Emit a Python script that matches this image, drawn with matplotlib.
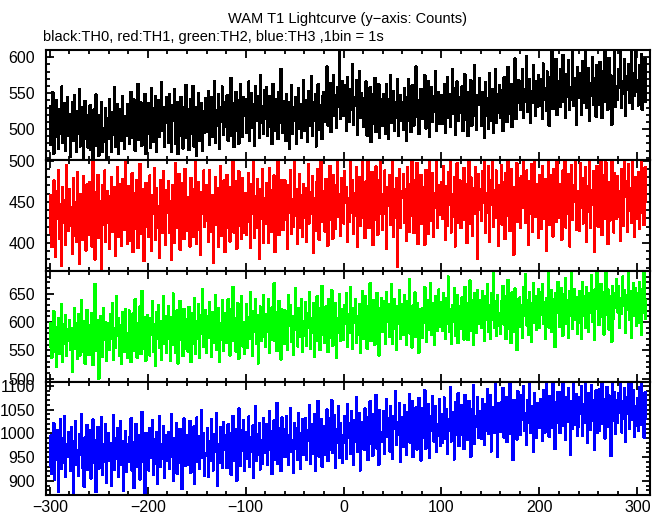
import numpy as np
import matplotlib
matplotlib.use("Agg")
import matplotlib.pyplot as plt
from matplotlib.ticker import MultipleLocator

plt.rcParams['font.family'] = ['Liberation Sans', 'DejaVu Sans']

## counts per 1 s bin, first bin at t = -300 s
th0 = [
    478, 532, 497, 551, 466, 515, 489, 540, 503, 472, 528, 494, 559, 481, 512, 536, 470, 507, 545, 490,
    521, 462, 499, 538, 483, 547, 510, 468, 525, 493, 556, 476, 514, 531, 459, 502, 539, 486, 520, 474,
    496, 533, 471, 512, 460, 527, 489, 548, 477, 505, 463, 519, 494, 537, 468, 501, 482, 529, 455, 515,
    487, 541, 506, 469, 523, 492, 558, 475, 510, 534, 466, 499, 527, 483, 546, 504, 472, 518, 491, 535,
    530, 479, 515, 552, 488, 507, 541, 470, 523, 496, 563, 485, 512, 537, 477, 528, 501, 549, 466, 519,
    494, 536, 511, 474, 557, 503, 482, 529, 546, 469, 516, 540, 489, 522, 565, 497, 531, 475, 508, 544,
    525, 481, 549, 497, 468, 533, 512, 556, 479, 504, 538, 465, 520, 491, 545, 509, 473, 530, 496, 561,
    488, 527, 471, 514, 542, 493, 560, 476, 509, 531, 463, 518, 550, 484, 502, 536, 470, 525, 495, 543,
    534, 496, 553, 478, 520, 545, 489, 515, 567, 481, 526, 504, 548, 473, 531, 510, 559, 492, 517, 538,
    503, 547, 484, 529, 512, 571, 490, 536, 475, 521, 552, 498, 540, 480, 527, 563, 506, 489, 544, 519,
    541, 495, 529, 566, 483, 517, 550, 502, 535, 477, 560, 512, 524, 546, 488, 575, 509, 532, 493, 554,
    514, 558, 491, 537, 503, 546, 527, 479, 563, 518, 497, 541, 530, 486, 552, 509, 584, 522, 495, 539,
    526, 483, 549, 507, 538, 472, 520, 561, 494, 531, 512, 545, 479, 516, 557, 501, 535, 488, 523, 568,
    497, 540, 519, 482, 553, 528, 505, 574, 490, 537, 511, 549, 476, 525, 562, 499, 533, 514, 486, 546,
    552, 510, 538, 587, 505, 529, 564, 496, 541, 518, 575, 523, 547, 502, 558, 531, 612, 514, 539, 566,
    519, 561, 534, 498, 572, 541, 510, 555, 527, 590, 506, 545, 533, 568, 492, 538, 581, 515, 550, 524,
    543, 503, 529, 566, 491, 537, 515, 558, 482, 524, 549, 507, 571, 496, 533, 519, 562, 488, 541, 510,
    505, 548, 520, 494, 563, 531, 486, 542, 575, 509, 527, 553, 498, 538, 516, 569, 491, 534, 547, 512,
    538, 499, 557, 522, 483, 545, 570, 511, 533, 496, 561, 528, 505, 549, 587, 517, 540, 493, 531, 556,
    514, 553, 530, 575, 501, 541, 520, 567, 489, 535, 558, 510, 546, 524, 581, 498, 537, 552, 507, 543,
    547, 508, 536, 563, 495, 528, 572, 516, 549, 503, 539, 584, 521, 557, 492, 533, 566, 511, 544, 526,
    522, 559, 497, 540, 576, 513, 535, 490, 551, 529, 568, 505, 544, 518, 589, 526, 499, 547, 534, 571,
    538, 504, 552, 526, 488, 565, 519, 543, 500, 578, 531, 512, 556, 495, 537, 583, 509, 548, 523, 561,
    516, 554, 538, 497, 572, 529, 549, 510, 586, 535, 521, 563, 503, 545, 530, 598, 514, 552, 537, 568,
    561, 527, 549, 583, 515, 556, 538, 602, 524, 547, 570, 509, 553, 536, 589, 542, 518, 566, 531, 575,
    532, 569, 548, 514, 591, 541, 557, 526, 580, 553, 505, 572, 539, 611, 528, 561, 544, 597, 520, 556,
    567, 531, 584, 549, 603, 538, 562, 515, 577, 545, 596, 527, 558, 541, 619, 532, 571, 550, 506, 586,
    543, 578, 556, 520, 594, 537, 567, 609, 529, 552, 585, 511, 564, 546, 600, 534, 571, 555, 517, 589,
    570, 534, 593, 551, 515, 580, 545, 608, 538, 562, 527, 599, 553, 575, 506, 566, 543, 614, 531, 559,
    541, 584, 557, 612, 530, 566, 549, 597, 519, 573, 555, 590, 536, 563, 607, 528, 578, 546, 621, 552,
    568, 533, 589, 550, 604, 527, 575, 546, 598, 538,
]

th1 = [
    412, 458, 395, 441, 476, 420, 383, 463, 430, 489, 405, 447, 372, 468, 425, 452, 398, 495, 436, 415,
    466, 421, 443, 387, 479, 409, 450, 402, 486, 427, 375, 459, 437, 404, 481, 418, 455, 391, 471, 433,
    410, 474, 432, 396, 499, 445, 380, 462, 419, 483, 406, 451, 428, 369, 470, 422, 488, 401, 441, 463,
    424, 393, 457, 480, 414, 439, 468, 384, 449, 492, 408, 435, 471, 397, 478, 444, 416, 502, 429, 399,
    469, 423, 403, 447, 485, 389, 438, 461, 417, 477, 394, 452, 496, 411, 434, 466, 378, 442, 473, 420,
    448, 407, 482, 429, 390, 458, 436, 491, 404, 467, 419, 445, 382, 476, 431, 412, 487, 453, 398, 464,
    437, 475, 413, 451, 380, 470, 426, 400, 497, 441, 418, 459, 484, 392, 446, 421, 473, 405, 490, 430,
    415, 456, 440, 396, 479, 423, 466, 408, 448, 503, 399, 432, 474, 416, 386, 462, 436, 488, 420, 452,
    470, 427, 401, 489, 443, 414, 458, 376, 437, 480, 422, 467, 395, 446, 494, 409, 453, 431, 476, 389,
    441, 483, 418, 455, 402, 468, 433, 510, 413, 449, 475, 393, 440, 487, 421, 462, 405, 479, 444, 412,
    461, 410, 448, 485, 426, 394, 472, 436, 498, 406, 457, 418, 478, 443, 381, 466, 430, 490, 400, 454,
    423, 473, 439, 400, 491, 452, 414, 464, 438, 482, 389, 469, 427, 501, 410, 456, 434, 477, 416, 447,
    476, 428, 459, 393, 470, 437, 489, 411, 453, 420, 512, 433, 465, 399, 444, 484, 419, 458, 407, 472,
    431, 467, 402, 450, 496, 424, 462, 436, 481, 388, 455, 415, 474, 438, 490, 404, 447, 505, 426, 463,
    452, 414, 478, 440, 397, 466, 494, 428, 460, 405, 483, 445, 417, 471, 515, 432, 459, 409, 479, 437,
    424, 487, 449, 468, 402, 455, 426, 503, 437, 476, 411, 461, 433, 492, 395, 451, 480, 421, 465, 499,
    469, 430, 406, 475, 447, 507, 418, 462, 439, 486, 398, 456, 428, 493, 464, 410, 477, 435, 517, 450,
    416, 460, 488, 436, 393, 468, 445, 482, 422, 454, 499, 408, 466, 431, 479, 371, 452, 490, 419, 463,
    455, 484, 425, 466, 403, 492, 440, 414, 472, 433, 509, 458, 412, 477, 429, 497, 399, 463, 447, 483,
    423, 468, 451, 398, 489, 438, 475, 411, 500, 452, 427, 485, 407, 461, 443, 513, 419, 470, 434, 458,
    474, 429, 494, 450, 404, 469, 421, 486, 446, 506, 413, 460, 432, 480, 396, 465, 497, 425, 455, 476,
    418, 462, 444, 491, 428, 471, 400, 453, 499, 424, 480, 458, 409, 467, 435, 492, 448, 381, 484, 441,
    466, 427, 487, 449, 510, 413, 461, 437, 493, 402, 476, 446, 498, 420, 464, 431, 488, 452, 397, 470,
    440, 495, 422, 474, 456, 405, 485, 433, 504, 462, 415, 490, 447, 468, 386, 458, 429, 497, 426, 479,
    457, 418, 481, 443, 508, 466, 425, 488, 451, 398, 475, 436, 496, 414, 461, 519, 432, 472, 447, 406,
    483, 446, 417, 494, 455, 429, 478, 391, 467, 501, 422, 453, 482, 440, 408, 490, 459, 426, 511, 448,
    431, 472, 452, 404, 488, 446, 503, 419, 466, 435, 484, 396, 458, 495, 428, 470, 450, 514, 416, 463,
    461, 415, 497, 443, 479, 424, 455, 492, 401, 469, 438, 506, 418, 464, 447, 487, 389, 460, 432, 494,
    420, 468, 449, 509, 410, 457, 483, 430, 498, 446, 399, 474, 427, 462, 518, 441, 413, 485, 452, 429,
    481, 432, 463, 403, 490, 448, 421, 502, 456, 475, 414, 496, 439, 467, 425, 511, 451, 408, 480, 460,
    429, 486, 417, 463, 500, 437, 476, 422, 492, 450,
]

th2 = [
    556, 598, 537, 582, 619, 548, 590, 521, 573, 607, 543, 585, 631, 530, 596, 561, 612, 540, 588, 567,
    603, 550, 589, 512, 579, 624, 553, 597, 535, 614, 571, 541, 638, 586, 547, 601, 526, 580, 621, 558,
    542, 595, 566, 616, 524, 583, 667, 549, 604, 572, 500, 559, 611, 587, 538, 625, 568, 599, 531, 592,
    598, 551, 613, 570, 634, 533, 589, 555, 645, 576, 606, 540, 594, 526, 618, 563, 547, 622, 581, 536,
    561, 620, 574, 529, 600, 615, 549, 640, 579, 537, 597, 566, 627, 544, 655, 586, 552, 609, 532, 593,
    612, 565, 541, 606, 578, 636, 547, 596, 522, 617, 571, 630, 554, 601, 534, 589, 645, 562, 611, 546,
    570, 628, 590, 531, 609, 560, 650, 595, 545, 583, 621, 527, 598, 637, 568, 604, 540, 623, 580, 553,
    605, 548, 626, 576, 529, 615, 589, 562, 642, 544, 601, 570, 631, 537, 612, 579, 658, 556, 594, 620,
    545, 610, 572, 635, 593, 538, 618, 563, 603, 648, 551, 590, 624, 530, 597, 568, 639, 549, 614, 575,
    616, 563, 640, 596, 541, 622, 581, 662, 566, 607, 548, 594, 633, 535, 613, 578, 646, 557, 600, 543,
    579, 631, 555, 608, 571, 652, 597, 540, 619, 583, 640, 561, 612, 527, 600, 627, 566, 605, 648, 574,
    556, 613, 582, 641, 545, 604, 569, 626, 590, 668, 566, 618, 549, 588, 637, 578, 534, 622, 592, 561,
    620, 568, 609, 551, 647, 593, 630, 565, 611, 542, 587, 659, 598, 557, 625, 574, 615, 640, 548, 601,
    576, 635, 558, 616, 590, 653, 553, 607, 580, 634, 539, 613, 587, 645, 566, 624, 550, 599, 664, 578,
    611, 563, 627, 589, 547, 641, 600, 572, 656, 558, 618, 584, 633, 536, 607, 581, 649, 567, 622, 594,
    569, 629, 596, 650, 556, 614, 580, 662, 593, 552, 625, 598, 641, 563, 611, 577, 632, 546, 603, 654,
    622, 570, 645, 604, 553, 628, 590, 668, 566, 615, 581, 638, 560, 609, 651, 586, 541, 624, 595, 642,
    583, 636, 606, 561, 653, 600, 631, 573, 619, 666, 562, 610, 640, 588, 551, 627, 597, 656, 571, 614,
    632, 577, 648, 605, 560, 637, 593, 675, 579, 618, 555, 629, 601, 652, 574, 634, 608, 546, 622, 596,
    572, 625, 598, 661, 609, 565, 639, 587, 620, 669, 578, 633, 603, 559, 646, 612, 584, 657, 592, 628,
    635, 584, 651, 607, 571, 642, 596, 680, 583, 623, 562, 630, 601, 659, 576, 615, 648, 563, 627, 591,
    588, 643, 610, 569, 662, 602, 634, 568, 619, 673, 585, 638, 605, 560, 651, 614, 580, 656, 597, 632,
    638, 590, 655, 611, 566, 645, 603, 667, 582, 629, 571, 650, 604, 686, 589, 636, 575, 648, 615, 593,
    579, 637, 609, 664, 595, 646, 570, 624, 674, 588, 633, 563, 652, 612, 583, 659, 618, 550, 641, 602,
    643, 592, 630, 572, 661, 611, 684, 594, 638, 578, 653, 606, 565, 634, 668, 599, 645, 586, 620, 658,
    589, 652, 613, 667, 596, 635, 570, 642, 609, 690, 590, 631, 656, 582, 640, 607, 556, 651, 616, 671,
    640, 591, 660, 614, 576, 649, 621, 678, 597, 639, 572, 654, 610, 695, 588, 635, 658, 603, 644, 579,
    598, 655, 620, 571, 670, 611, 646, 590, 662, 632, 583, 651, 617, 682, 600, 641, 569, 658, 623, 700,
    648, 595, 633, 667, 609, 653, 578, 639, 688, 612, 657, 587, 645, 618, 565, 663, 605, 650, 625, 676,
    617, 664, 589, 642, 614, 680, 628, 656, 580, 647, 621, 694, 604, 654, 572, 640, 668, 611, 659, 593,
    651, 598, 671, 626, 577, 657, 616, 698, 639, 605,
]

th3 = [
    932, 995, 915, 971, 1021, 903, 980, 944, 1006, 877, 962, 1030, 925, 990, 938, 1037, 908, 976, 951, 1003,
    973, 920, 1012, 949, 872, 984, 1026, 934, 965, 911, 998, 955, 1041, 928, 969, 887, 992, 942, 1018, 923,
    950, 1006, 905, 968, 1029, 937, 985, 876, 960, 1013, 926, 994, 944, 1034, 913, 977, 939, 1020, 896, 966,
    1000, 941, 979, 890, 958, 1038, 924, 989, 947, 1011, 909, 971, 1025, 933, 984, 879, 961, 1005, 918, 976,
    939, 991, 956, 1032, 921, 968, 885, 982, 1020, 930, 996, 946, 903, 975, 1045, 940, 964, 871, 1001, 952,
    983, 922, 1010, 948, 970, 1028, 912, 988, 935, 1002, 894, 963, 1036, 929, 977, 946, 1015, 906, 968, 997,
    942, 1003, 926, 975, 1040, 951, 899, 990, 961, 1022, 915, 969, 937, 1009, 979, 882, 956, 1031, 932, 987,
    995, 933, 970, 1026, 917, 982, 955, 1014, 894, 966, 1033, 940, 993, 925, 971, 1048, 948, 1000, 911, 959,
    953, 1010, 908, 984, 941, 1030, 967, 922, 999, 960, 1042, 889, 978, 938, 1012, 957, 927, 1023, 965, 996,
    977, 927, 1019, 958, 1000, 913, 981, 1037, 943, 970, 1008, 900, 990, 1052, 952, 932, 1006, 963, 1027, 921,
    1002, 946, 979, 1035, 930, 992, 960, 1016, 907, 975, 1058, 941, 998, 954, 1021, 924, 985, 936, 1031, 963,
    958, 1020, 933, 993, 1047, 966, 1004, 914, 980, 1027, 944, 991, 1063, 935, 972, 1010, 921, 1033, 982, 951,
    1008, 950, 1036, 973, 934, 997, 1053, 960, 986, 916, 1022, 968, 1011, 944, 1043, 989, 926, 1001, 1030, 955,
    967, 1032, 945, 1006, 984, 1060, 936, 995, 1019, 956, 1040, 921, 1003, 976, 1068, 951, 1012, 1029, 930, 990,
    1015, 954, 993, 1050, 942, 1004, 1031, 965, 1069, 958, 990, 1039, 927, 1008, 979, 1057, 948, 1022, 997, 937,
    979, 1036, 1005, 946, 1062, 990, 1021, 957, 1047, 998, 933, 1027, 982, 1076, 961, 1009, 1043, 922, 1016, 993,
    1024, 965, 1052, 999, 1033, 944, 1008, 1067, 978, 1040, 953, 1012, 994, 1081, 968, 1028, 934, 1048, 1002, 982,
    984, 1046, 957, 1019, 1072, 993, 1031, 962, 1058, 1004, 946, 1037, 1010, 1088, 975, 1023, 996, 1063, 940, 1027,
    1033, 972, 1060, 1008, 955, 1045, 997, 1083, 980, 1024, 1068, 950, 1015, 988, 1054, 966, 1036, 1074, 1001, 943,
    990, 1053, 1011, 1090, 967, 1028, 999, 1062, 948, 1037, 1005, 1079, 983, 1031, 1058, 960, 1019, 994, 1071, 974,
    1041, 980, 1022, 1075, 988, 1050, 956, 1030, 1006, 1097, 983, 1044, 1012, 945, 1066, 996, 1027, 1084, 973, 1035,
    997, 1059, 1024, 967, 1081, 1010, 1046, 986, 1068, 1029, 951, 1051, 1003, 1101, 977, 1036, 1014, 1076, 990, 1042,
    1047, 989, 1072, 1020, 976, 1061, 1005, 1093, 998, 1037, 1080, 962, 1025, 1055, 1000, 1107, 1016, 950, 1064, 1032,
    1003, 1066, 1028, 1096, 991, 1040, 1077, 981, 1052, 1017, 1104, 998, 1035, 944, 1070, 1021, 1048, 987, 1088, 1010,
    1053, 996, 1081, 1029, 1100, 1006, 1043, 975, 1069, 1022, 1112, 1001, 1057, 1014, 961, 1085, 1034, 990, 1064, 1019,
    1011, 1072, 1031, 984, 1091, 1040, 1002, 1109, 1026, 1060, 993, 1079, 1035, 1012, 1118, 1045, 967, 1066, 1023, 1087,
    1060, 1000, 1086, 1034, 1106, 1015, 1052, 986, 1077, 1024, 1095, 1039, 955, 1068, 1009, 1113, 1044, 1018, 1082, 995,
    1014, 1075, 1040, 1099, 994, 1061, 1022, 1120, 1033, 980, 1084, 1047, 1008, 1102, 1026, 1069, 965, 1053, 1090, 1001,
    1066, 1005, 1093, 1036, 1110, 1019, 1072, 989, 1048, 1098, 1013, 1080, 1039, 952, 1057, 1105, 1027, 1087, 998, 1070,
    1021, 1085, 1044, 1115, 1002, 1068, 1031, 1096, 982, 1077, 1040, 1103, 1009, 1062, 1119, 1029, 1091, 993, 1058, 1015,
    1074, 1006, 1097, 1035, 1108, 1017, 1063, 991, 1086, 1030,
]

t_start = -300
colors = ['black', '#ff0000', '#00ff00', '#0000ff']
series = [th0, th1, th2, th3]
ylims = [(457, 610), (366, 501), (494, 690), (870, 1108)]
yticks = [[500, 550, 600], [400, 450, 500], [500, 550, 600, 650],
          [900, 950, 1000, 1050, 1100]]

fig = plt.figure(figsize=(6.61, 5.15), dpi=100)
W, H = 661.0, 515.0
left, right = 46, 650
edges = [50, 160, 271, 382, 495]   # panel borders in pixels from the top

axes = []
for i in range(4):
    top, bot = edges[i], edges[i + 1]
    ax = fig.add_axes([left / W, 1 - bot / H, (right - left) / W, (bot - top) / H])
    axes.append(ax)
    y = np.array(series[i])
    t = np.arange(len(y)) + t_start
    ax.plot(t, y, color=colors[i], lw=1.0, drawstyle='steps-mid', antialiased=False)
    ax.set_xlim(-304, 313)
    ax.set_ylim(*ylims[i])
    ax.set_yticks(yticks[i])
    ax.yaxis.set_minor_locator(MultipleLocator(10))
    ax.xaxis.set_major_locator(MultipleLocator(100))
    ax.xaxis.set_minor_locator(MultipleLocator(20))
    ax.tick_params(which='both', direction='in', top=True, right=True,
                   width=1.3, labelsize=11.5)
    ax.tick_params(axis='y', pad=8)
    ax.tick_params(which='major', length=6)
    ax.tick_params(which='minor', length=3)
    for s in ax.spines.values():
        s.set_linewidth(1.5)
    if i < 3:
        ax.tick_params(labelbottom=False)

axes[-1].set_xticks([-300, -200, -100, 0, 100, 200, 300])
axes[-1].set_xticklabels(['\u2212300', '\u2212200', '\u2212100', '0', '100', '200', '300'])

fig.text((left + right) / 2 / W, 1 - 19 / H, 'WAM T1 Lightcurve (y\u2212axis: Counts)',
         ha='center', va='center', fontsize=10.5)
fig.text(43 / W, 1 - 37 / H, 'black:TH0, red:TH1, green:TH2, blue:TH3 ,1bin = 1s',
         ha='left', va='center', fontsize=10.5)

fig.savefig('out.png', dpi=100)
